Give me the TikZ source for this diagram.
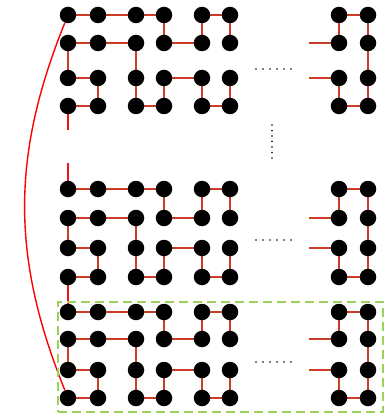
\documentclass[tikz,border=0pt]{standalone}
\usetikzlibrary{backgrounds}
\definecolor{linkred}{RGB}{205,60,40}
\definecolor{loopred}{RGB}{240,20,20}
\definecolor{boxgreen}{RGB}{155,210,90}
\tikzset{
  site/.style={circle, fill=black, inner sep=0pt, minimum size=16.5pt},
  link/.style={draw=linkred, line width=2.7pt},
  stub/.style={draw=loopred, line width=2.4pt},
  wrap/.style={draw=red, line width=1.4pt},
}
\begin{document}
\begin{tikzpicture}[x=1pt, y=-1pt]
  \useasboundingbox (0,0) rectangle (385,414);

  % three blocks of 4 rows; columns 1-6 on the left, 7-8 on the right
  \foreach \b/\ya/\yb/\yc/\yd in {A/15/43/78/106, B/189/218/248/277, C/312/339/370/398}{
    \foreach \c/\x in {1/68, 2/98, 3/136, 4/164, 5/202, 6/230, 7/339, 8/368}{
      \node[site] (\b-\c-1) at (\x,\ya) {};
      \node[site] (\b-\c-2) at (\x,\yb) {};
      \node[site] (\b-\c-3) at (\x,\yc) {};
      \node[site] (\b-\c-4) at (\x,\yd) {};
    }
    \coordinate (\b-in2) at (309,\yb);
    \coordinate (\b-in3) at (309,\yc);
    \begin{scope}[on background layer]
      \foreach \p/\q in {1-1/2-1, 2-1/3-1, 3-1/4-1, 5-1/6-1, 4-2/5-2, 1-2/2-2, 2-2/3-2,
                         1-3/2-3, 4-3/5-3, 1-4/2-4, 3-4/4-4, 5-4/6-4, 7-1/8-1, 7-4/8-4,
                         4-1/4-2, 5-1/5-2, 6-1/6-2, 1-2/1-3, 2-3/2-4, 3-2/3-3, 3-3/3-4,
                         4-3/4-4, 5-3/5-4, 6-3/6-4, 7-1/7-2, 8-1/8-2, 8-2/8-3, 8-3/8-4,
                         7-3/7-4}{
        \draw[link] (\b-\p.center) -- (\b-\q.center);
      }
      \draw[link] (\b-in2) -- (\b-7-2.center);
      \draw[link] (\b-in3) -- (\b-7-3.center);
    \end{scope}
  }

  % vertical links between the blocks in the first column
  \coordinate (A-out) at (68,130);
  \coordinate (B-in) at (68,163);
  \begin{scope}[on background layer]
    \draw[stub] (A-1-4.center) -- (A-out);
    \draw[stub] (B-in) -- (B-1-1.center);
    \draw[stub] (B-1-4.center) -- (C-1-1.center);
  \end{scope}

  % closing arc from the first site to the last one
  \draw[wrap] (A-1-1) to[bend right=22] (C-1-4);

  % horizontal ellipses
  \foreach \y in {69, 240, 362}{
    \foreach \k in {0,...,5}{
      \fill[black] (256+7*\k,\y) circle[radius=0.9pt];
    }
  }
  % vertical ellipsis
  \foreach \k in {0,...,6}{
    \fill[black] (272,125+5.5*\k) circle[radius=0.9pt];
  }

  % highlighted block
  \node[draw=boxgreen, line width=2.3pt, dash pattern=on 9pt off 5pt,
        inner sep=0pt, minimum width=325pt, minimum height=110pt] (frame) at (220.5,357) {};
\end{tikzpicture}
\end{document}
